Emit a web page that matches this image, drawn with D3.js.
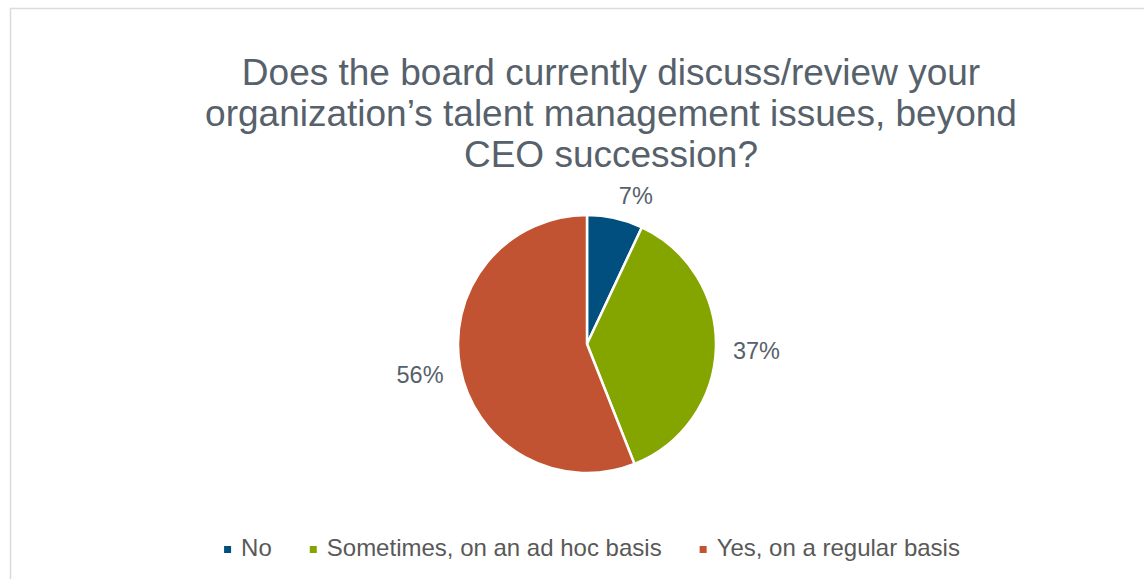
<!DOCTYPE html>
<html>
<head>
<meta charset="utf-8">
<script src="https://cdn.jsdelivr.net/npm/d3@7"></script>
<style>
  html, body { margin: 0; padding: 0; background: #ffffff; }
  svg { display: block; }
</style>
</head>
<body>
<svg id="chart" width="1144" height="579"></svg>
<script>
// ---- data ----
const titleLines = [
  "Does the board currently discuss/review your",
  "organization\u2019s talent management issues, beyond",
  "CEO succession?"
];
const categories = ["No", "Sometimes, on an ad hoc basis", "Yes, on a regular basis"];
const values = [7, 37, 56];
const colors = ["#004F7F", "#84A500", "#C15332"];

// ---- layout ----
const W = 1144, H = 579;
const svg = d3.select("#chart");
const font = "'Liberation Sans', Arial, Helvetica, sans-serif";
const titleColor = "#56616B";
const labelColor = "#56616B";
const legendColor = "#595959";

// chart area border
svg.append("rect")
  .attr("x", 10.5).attr("y", 8.5)
  .attr("width", 1200).attr("height", 700)
  .attr("fill", "#ffffff")
  .attr("stroke", "#D9DCDF")
  .attr("stroke-width", 1.5);

// title
const title = svg.append("text")
  .attr("font-family", font)
  .attr("font-size", 37)
  .attr("fill", titleColor)
  .attr("text-anchor", "middle");
title.selectAll("tspan")
  .data(titleLines)
  .join("tspan")
  .attr("x", 611)
  .attr("y", (d, i) => 85 + i * 41)
  .text(d => d);

// pie
const cx = 587, cy = 344, r = 129;
const pie = d3.pie().sort(null).value(d => d.v);
const arcs = pie(values.map((v, i) => ({ v, i })));
const arc = d3.arc().innerRadius(0).outerRadius(r);

const g = svg.append("g").attr("transform", `translate(${cx},${cy})`);
g.selectAll("path")
  .data(arcs)
  .join("path")
  .attr("d", arc)
  .attr("fill", d => colors[d.data.i])
  .attr("stroke", "#ffffff")
  .attr("stroke-width", 2.5)
  .attr("stroke-linejoin", "round");

// labels (outside end)
const labelR = r + 17;
const labelSize = 23.5;
const capH = labelSize * 0.716;
g.selectAll("text.lbl")
  .data(arcs)
  .join("text")
  .attr("class", "lbl")
  .attr("font-family", font)
  .attr("font-size", labelSize)
  .attr("fill", labelColor)
  .each(function (d) {
    const a = (d.startAngle + d.endAngle) / 2;
    const s = Math.sin(a), c = Math.cos(a);
    const px = labelR * s;
    const py = -labelR * c;
    const anchor = s > 0.1 ? "start" : (s < -0.1 ? "end" : "middle");
    const yc = py - (capH / 2) * c;
    d3.select(this)
      .attr("x", px)
      .attr("y", yc + capH / 2 + 2)
      .attr("text-anchor", anchor)
      .text(d.data.v + "%");
  });

// legend
const legendSize = 24;
const sq = 7, sqGap = 10, itemGap = 38;
const legendY = 556;
const lg = svg.append("g");
const items = lg.selectAll("g.item")
  .data(categories)
  .join("g")
  .attr("class", "item");
items.append("rect")
  .attr("width", sq).attr("height", sq)
  .attr("y", legendY - 10)
  .attr("fill", (d, i) => colors[i]);
items.append("text")
  .attr("font-family", font)
  .attr("font-size", legendSize)
  .attr("fill", legendColor)
  .attr("x", sq + sqGap)
  .attr("y", legendY)
  .text(d => d);
let xpos = 0;
const offsets = [];
items.each(function () {
  const tw = d3.select(this).select("text").node().getComputedTextLength();
  offsets.push(xpos);
  xpos += sq + sqGap + tw + itemGap;
});
const total = xpos - itemGap;
const startX = 592 - total / 2;
items.attr("transform", (d, i) => `translate(${startX + offsets[i]},0)`);
</script>
</body>
</html>
